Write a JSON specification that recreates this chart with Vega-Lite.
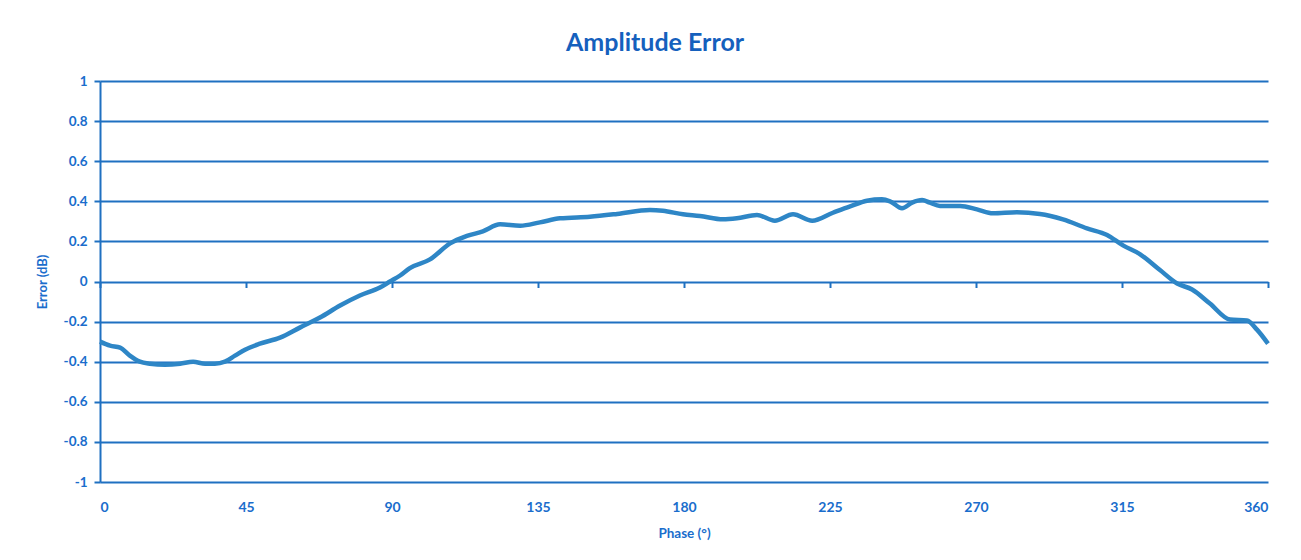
{
  "$schema": "https://vega.github.io/schema/vega-lite/v6.json",
  "width": 1168,
  "height": 401,
  "autosize": {"type": "none"},
  "padding": {"left": 100, "top": 81, "right": 33, "bottom": 78},
  "background": "white",
  "config": {"view": {"stroke": null}},
  "title": {"text": "Amplitude Error", "font": "Lato", "fontSize": 25, "fontWeight": "bold", "color": "#1560bd", "anchor": "middle", "dx": -29, "offset": 18},
  "data": {"values": [
    {"phase": 0, "error": -0.30},
    {"phase": 3.1, "error": -0.32},
    {"phase": 6.2, "error": -0.33},
    {"phase": 9.2, "error": -0.37},
    {"phase": 12.3, "error": -0.40},
    {"phase": 15.4, "error": -0.41},
    {"phase": 20.0, "error": -0.415},
    {"phase": 24.7, "error": -0.41},
    {"phase": 28.7, "error": -0.40},
    {"phase": 32.4, "error": -0.41},
    {"phase": 35.4, "error": -0.41},
    {"phase": 38.5, "error": -0.40},
    {"phase": 41.6, "error": -0.37},
    {"phase": 44.7, "error": -0.34},
    {"phase": 49.3, "error": -0.31},
    {"phase": 55.5, "error": -0.28},
    {"phase": 61.6, "error": -0.23},
    {"phase": 67.8, "error": -0.18},
    {"phase": 74.0, "error": -0.12},
    {"phase": 80.1, "error": -0.07},
    {"phase": 86.3, "error": -0.03},
    {"phase": 89.4, "error": 0.0},
    {"phase": 92.5, "error": 0.03},
    {"phase": 95.5, "error": 0.067},
    {"phase": 101.7, "error": 0.11},
    {"phase": 107.9, "error": 0.19},
    {"phase": 113.1, "error": 0.227},
    {"phase": 118.0, "error": 0.25},
    {"phase": 123.3, "error": 0.285},
    {"phase": 129.5, "error": 0.278},
    {"phase": 135.6, "error": 0.295},
    {"phase": 141.8, "error": 0.315},
    {"phase": 151.0, "error": 0.323},
    {"phase": 159.4, "error": 0.337},
    {"phase": 169.5, "error": 0.357},
    {"phase": 173.5, "error": 0.353},
    {"phase": 179.7, "error": 0.335},
    {"phase": 184.9, "error": 0.327},
    {"phase": 192.0, "error": 0.31},
    {"phase": 196.3, "error": 0.315},
    {"phase": 202.5, "error": 0.332},
    {"phase": 208.0, "error": 0.303},
    {"phase": 213.6, "error": 0.335},
    {"phase": 219.5, "error": 0.303},
    {"phase": 225.9, "error": 0.343},
    {"phase": 231.2, "error": 0.375},
    {"phase": 236.4, "error": 0.403},
    {"phase": 241.0, "error": 0.41},
    {"phase": 243.5, "error": 0.40},
    {"phase": 247.2, "error": 0.365},
    {"phase": 250.3, "error": 0.393},
    {"phase": 253.4, "error": 0.406},
    {"phase": 255.8, "error": 0.393},
    {"phase": 258.9, "error": 0.377},
    {"phase": 265.1, "error": 0.377},
    {"phase": 270.3, "error": 0.36},
    {"phase": 275.2, "error": 0.34},
    {"phase": 282.6, "error": 0.345},
    {"phase": 289.7, "error": 0.337},
    {"phase": 296.8, "error": 0.31},
    {"phase": 304.2, "error": 0.265},
    {"phase": 310.4, "error": 0.232},
    {"phase": 315.3, "error": 0.18},
    {"phase": 320.5, "error": 0.137},
    {"phase": 326.7, "error": 0.057},
    {"phase": 332.0, "error": -0.01},
    {"phase": 336.6, "error": -0.04},
    {"phase": 342.1, "error": -0.11},
    {"phase": 348.3, "error": -0.19},
    {"phase": 353.5, "error": -0.195},
    {"phase": 356.6, "error": -0.24},
    {"phase": 360, "error": -0.31}
  ]},
  "layer": [
    {
      "mark": {"type": "line", "opacity": 0},
      "encoding": {
        "x": {
          "field": "phase", "type": "quantitative",
          "scale": {"domain": [0, 360], "nice": false, "zero": false},
          "axis": {
            "orient": "bottom",
            "values": [0, 45, 90, 135, 180, 225, 270, 315, 360],
            "offset": -200.5, "labels": false, "title": null, "domain": false, "grid": false,
            "ticks": true, "tickColor": "#1f70c1", "tickSize": 6, "tickWidth": 2
          }
        },
        "y": {
          "field": "error", "type": "quantitative",
          "scale": {"domain": [-1, 1], "nice": false},
          "axis": {
            "values": [-1, -0.8, -0.6, -0.4, -0.2, 0, 0.2, 0.4, 0.6, 0.8, 1],
            "labelExpr": "'' + datum.value",
            "title": "Error (dB)", "titleFont": "Lato", "titleFontSize": 13, "titleFontWeight": "bold", "titleColor": "#1a6dcc", "titlePadding": 14,
            "labelFont": "Lato", "labelFontSize": 13.5, "labelFontWeight": "bold", "labelColor": "#1a6dcc", "labelPadding": 7,
            "domain": true, "domainColor": "#1f70c1", "domainWidth": 2,
            "ticks": true, "tickColor": "#1f70c1", "tickSize": 6, "tickWidth": 2,
            "grid": true, "gridColor": "#1f70c1", "gridWidth": 1.8, "gridOpacity": 1
          }
        }
      }
    },
    {
      "mark": {"type": "line", "interpolate": "monotone", "color": "#2e86c6", "strokeWidth": 4.5},
      "encoding": {
        "x": {
          "field": "phase", "type": "quantitative",
          "scale": {"domain": [0, 360], "nice": false, "zero": false},
          "axis": {
            "orient": "bottom",
            "values": [0, 45, 90, 135, 180, 225, 270, 315, 360],
            "title": "Phase (°)", "titleFont": "Lato", "titleFontSize": 13.5, "titleFontWeight": "bold", "titleColor": "#1a6dcc", "titlePadding": 12,
            "labelFont": "Lato", "labelFontSize": 14, "labelFontWeight": "bold", "labelColor": "#1a6dcc", "labelPadding": 18,
            "domain": false, "ticks": false, "grid": false
          }
        },
        "y": {
          "field": "error", "type": "quantitative",
          "scale": {"domain": [-1, 1], "nice": false},
          "axis": {
            "values": [-1, -0.8, -0.6, -0.4, -0.2, 0, 0.2, 0.4, 0.6, 0.8, 1],
            "labelExpr": "'' + datum.value",
            "title": "Error (dB)", "titleFont": "Lato", "titleFontSize": 13, "titleFontWeight": "bold", "titleColor": "#1a6dcc", "titlePadding": 14,
            "labelFont": "Lato", "labelFontSize": 13.5, "labelFontWeight": "bold", "labelColor": "#1a6dcc", "labelPadding": 7,
            "domain": true, "domainColor": "#1f70c1", "domainWidth": 2,
            "ticks": true, "tickColor": "#1f70c1", "tickSize": 6, "tickWidth": 2,
            "grid": true, "gridColor": "#1f70c1", "gridWidth": 1.8, "gridOpacity": 1
          }
        }
      }
    }
  ],
  "resolve": {"axis": {"x": "independent"}}
}
